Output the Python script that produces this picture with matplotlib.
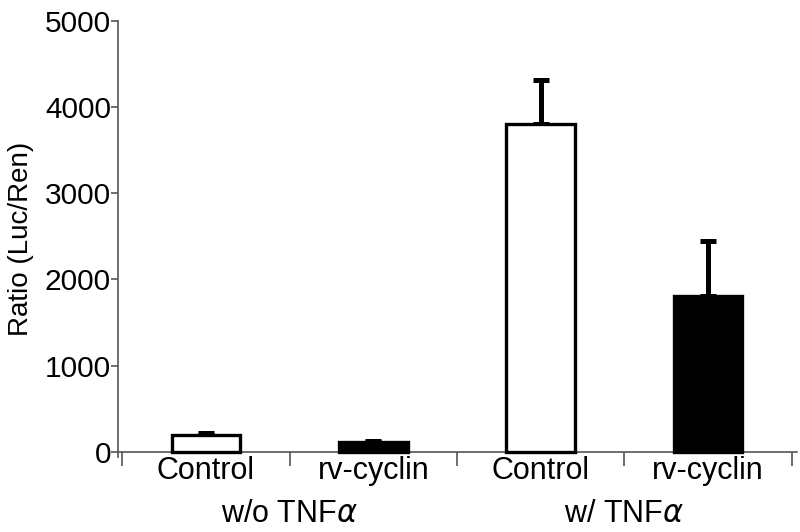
import matplotlib
matplotlib.use("Agg")
import matplotlib.pyplot as plt
import numpy as np

plt.rcParams['font.family'] = ['Liberation Sans', 'DejaVu Sans']

categories = ["Control", "rv-cyclin", "Control", "rv-cyclin"]
groups = ["w/o TNF$\\alpha$", "w/ TNF$\\alpha$"]
values = [190, 110, 3800, 1810]
errors = [25, 10, 510, 640]
colors = ["white", "black", "white", "black"]
yticks = [0, 1000, 2000, 3000, 4000, 5000]

fig = plt.figure(figsize=(8, 5.32), dpi=100)
ax = fig.add_axes([0.1475, 0.141, 0.8485, 0.8195])

x = np.arange(len(categories))
ax.bar(x, values, width=0.41, color=colors, edgecolor="black", linewidth=2.4, zorder=3)
ax.errorbar(x, values, yerr=[np.zeros(len(errors)), errors], fmt="none", ecolor="black",
            elinewidth=3.6, capsize=6, capthick=3.6, zorder=2)

ax.set_xlim(-0.525, 3.53)
ax.set_ylim(-60, 5000)
ax.spines['top'].set_visible(False)
ax.spines['right'].set_visible(False)
ax.spines['bottom'].set_position(('data', 0))
for s in ['left', 'bottom']:
    ax.spines[s].set_color('#555555')
    ax.spines[s].set_linewidth(1.2)

ax.set_yticks(yticks)
ax.set_yticklabels([str(v) for v in yticks], fontsize=21.5)
ax.tick_params(axis='y', length=5, width=1.2, color='#555555', pad=0)

ax.set_xticks([-0.5, 0.5, 1.5, 2.5, 3.5])
ax.set_xticklabels([])
ax.tick_params(axis='x', which='major', length=10, width=1.2, color='#555555', direction='out')
ax.set_xticks(x, minor=True)
ax.set_xticklabels(categories, minor=True, fontsize=22)
ax.tick_params(axis='x', which='minor', length=0, pad=3)

ax.set_ylabel("Ratio (Luc/Ren)", fontsize=20, labelpad=8)

for i, g in enumerate(groups):
    ax.text(2 * i + 0.5, -0.13, g, transform=ax.get_xaxis_transform(), ha='center', va='center',
            fontsize=22, math_fontfamily='dejavusans')

fig.savefig("out.png", dpi=100)
